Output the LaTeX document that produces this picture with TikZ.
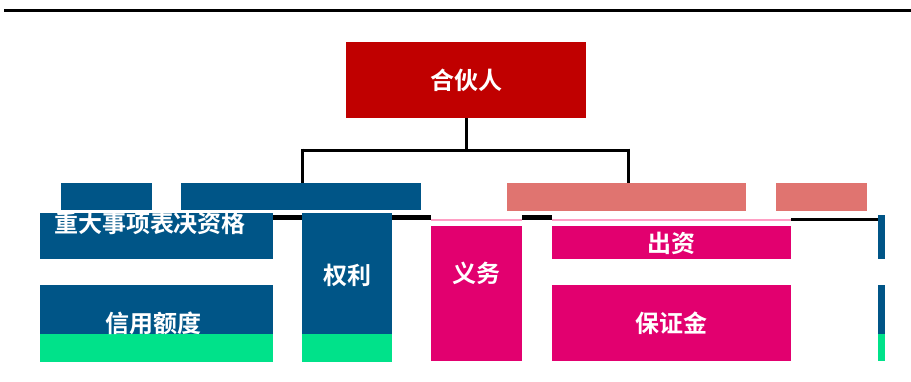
\documentclass[tikz,border=0pt]{standalone}
\usepackage{fontspec}
\newfontfamily\cjk{Noto Sans CJK SC Bold}
\definecolor{cred}{HTML}{C00000}
\definecolor{cblue}{HTML}{005587}
\definecolor{cgreen}{HTML}{00E28A}
\definecolor{cmag}{HTML}{E2006F}
\definecolor{csalmon}{HTML}{E07470}
\definecolor{cpink}{HTML}{FF9FC4}
\tikzset{
  box/.style={draw=none, inner sep=0pt, outer sep=0pt, anchor=north west,
    text=white, font=\cjk\fontsize{24}{26}\selectfont},
  lbl/.style={inner sep=0pt, text=white, font=\cjk\fontsize{24}{26}\selectfont},
  tree/.style={draw=black, line width=3pt},
  link/.style={draw=black, line width=5pt},
  thinlink/.style={draw=black, line width=3pt},
}
\begin{document}
\begin{tikzpicture}[x=1pt, y=-1pt]
\useasboundingbox (0,0) rectangle (911,381);
% top rule
\draw[line width=2.5pt] (4,10.5) -- (911,10.5);
% root
\node[box, fill=cred, minimum width=240pt, minimum height=76pt] (root) at (346,42) {合伙人};
% upper row
\node[box, fill=cblue, minimum width=91pt, minimum height=27pt] (a1) at (61,183) {};
\node[box, fill=cblue, minimum width=240pt, minimum height=27pt] (a2) at (181,183) {};
\node[box, fill=csalmon, minimum width=239pt, minimum height=28pt] (a3) at (507,183) {};
\node[box, fill=csalmon, minimum width=91pt, minimum height=28pt] (a4) at (776,183) {};
% tree connector
\coordinate (hbar) at (466,150);
\draw[tree] (root.south) -- (hbar);
\draw[tree] (302,150) -- (628,150);
\draw[tree] (302,148.5) -- (a2.north -| 302,0);
\draw[tree] (628,148.5) -- (a3.north -| 628,0);
% second row
\node[box, fill=cblue, minimum width=233pt, minimum height=46pt] (b1) at (40,213) {};
\node[lbl] (b1t) at (150,223) {重大事项表决资格};
\node[box, fill=cblue, minimum width=90pt, minimum height=121pt] (ql) at (302,213) {};
\node[box, fill=cgreen, minimum width=90pt, minimum height=28pt] (qlg) at (302,334) {};
\node[lbl] (qlt) at (347,275) {权利};
\node[box, fill=cmag, minimum width=91pt, minimum height=133pt] (yw) at (431,228) {};
\node[lbl] (ywt) at (476,273) {义务};
\node[box, fill=cmag, minimum width=239pt, minimum height=31pt] (b4) at (552,228) {出资};
\node[box, fill=cblue, minimum width=7pt, minimum height=44pt] (s1) at (878,215) {};
% pink stripes
\fill[cpink] (431,219) rectangle (522,220.5);
\fill[cpink] (552,219) rectangle (791,220.5);
\fill[cmag] (431,226) rectangle (522,228);
\fill[cmag] (552,226) rectangle (791,228);
% third row
\node[box, fill=cblue, minimum width=233pt, minimum height=77pt] (xy) at (40,285) {};
\node[box, fill=cgreen, minimum width=233pt, minimum height=28pt] (xyg) at (40,334) {};
\node[lbl] (xyt) at (153,323) {信用额度};
\node[box, fill=cmag, minimum width=239pt, minimum height=76pt] (bzj) at (552,285) {保证金};
\node[box, fill=cblue, minimum width=7pt, minimum height=49pt] (s2) at (878,285) {};
\node[box, fill=cgreen, minimum width=7pt, minimum height=27pt] (s2g) at (878,334) {};
% row links
\coordinate (hy) at (0,217);
\draw[link] (b1.east |- hy) -- (ql.west |- hy);
\draw[link] (ql.east |- hy) -- (yw.west |- hy);
\draw[link] (yw.east |- hy) -- (b4.west |- hy);
\draw[thinlink] (791,219.5) -- (s1.west |- 0,219.5);
\end{tikzpicture}
\end{document}
